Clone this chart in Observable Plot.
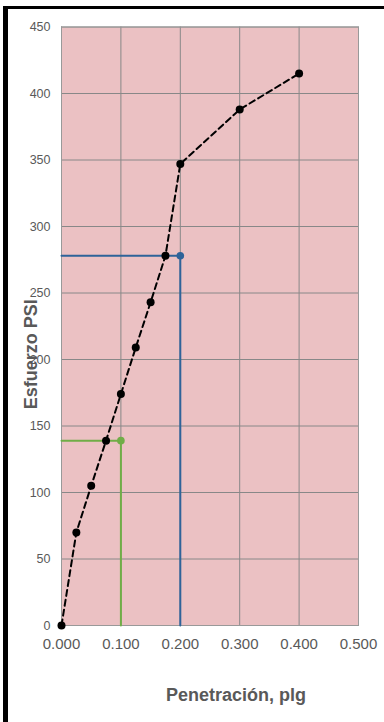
<!DOCTYPE html>
<html>
<head>
<meta charset="utf-8">
<script src="https://cdn.jsdelivr.net/npm/d3@7"></script>
<script src="https://cdn.jsdelivr.net/npm/@observablehq/plot@0.6"></script>
<style>
  html, body { margin: 0; padding: 0; background: #fff; }
  #wrap { position: relative; width: 384px; height: 722px; overflow: hidden; }
  #wrap svg { position: absolute; left: 0; top: 0; }
  #edge { position: absolute; left: 3px; top: 6px; width: 381px; height: 716px;
          border-left: 5px solid #000; border-top: 3px solid #000; box-sizing: border-box; }
</style>
</head>
<body>
<div id="wrap"><div id="edge"></div></div>
<script>
// CBR curve: penetration (in) vs. stress (psi)
const penetracion = [0, 0.025, 0.05, 0.075, 0.1, 0.125, 0.15, 0.175, 0.2, 0.3, 0.4];
const esfuerzo = [0, 70, 105, 139, 174, 209, 243, 278, 347, 388, 415];

// Reading lines at 0.1" and 0.2"
const refPenetracion = [0.1, 0.2];
const refEsfuerzo = [139, 278];
const refColor = ["#70ad47", "#2e6399"];

const xTicks = [0, 0.1, 0.2, 0.3, 0.4, 0.5];
const yTicks = [0, 50, 100, 150, 200, 250, 300, 350, 400, 450];

const curva = penetracion.map((p, i) => ({p, s: esfuerzo[i]}));
const refs = refPenetracion.map((p, i) => ({p, s: refEsfuerzo[i], c: refColor[i]}));

const textGray = "#595959";

const chart = Plot.plot({
  width: 384,
  height: 722,
  marginLeft: 61,
  marginRight: 26,
  marginTop: 26.5,
  marginBottom: 97,
  style: {fontFamily: "'Liberation Sans', Arial, sans-serif", background: "transparent", overflow: "visible"},
  x: {domain: [0, 0.5], ticks: xTicks},
  y: {domain: [0, 450], ticks: yTicks},
  marks: [
    Plot.frame({fill: "#ebc1c3", stroke: null}),
    Plot.gridX(xTicks, {stroke: "#888", strokeOpacity: 1, strokeWidth: 1}),
    Plot.gridY(yTicks, {stroke: "#888", strokeOpacity: 1, strokeWidth: 1}),
    Plot.frame({stroke: "#999", strokeWidth: 1}),
    Plot.axisX(xTicks, {tickSize: 0, tickPadding: 13, fontSize: 15, fill: textGray,
                        tickFormat: d3.format(".3f"), label: null}),
    Plot.axisY(yTicks, {tickSize: 0, tickPadding: 11, fontSize: 12.5, fill: textGray, label: null}),
    // reference lines: horizontal from the axis, then down to the axis
    ...refs.map(r => Plot.line([{p: 0, s: r.s}, {p: r.p, s: r.s}, {p: r.p, s: 0}],
      {x: "p", y: "s", stroke: r.c, strokeWidth: 2})),
    Plot.dot(refs, {x: "p", y: "s", r: 3.8, fill: "c", stroke: null}),
    Plot.line(curva, {x: "p", y: "s", stroke: "#000", strokeWidth: 2, strokeDasharray: "6,4"}),
    Plot.dot(curva, {x: "p", y: "s", r: 4, fill: "#000", stroke: null}),
    Plot.text(["Penetración, plg"], {frameAnchor: "bottom", textAnchor: "middle", lineAnchor: "middle",
      dx: 26, dy: 70, fontSize: 18, fontWeight: "bold", fill: textGray}),
    Plot.text(["Esfuerzo PSI"], {frameAnchor: "left", textAnchor: "middle", lineAnchor: "middle",
      rotate: -90, dx: -30, dy: 28, fontSize: 18, fontWeight: "bold", fill: textGray})
  ]
});
document.getElementById("wrap").prepend(chart);
</script>
</body>
</html>
